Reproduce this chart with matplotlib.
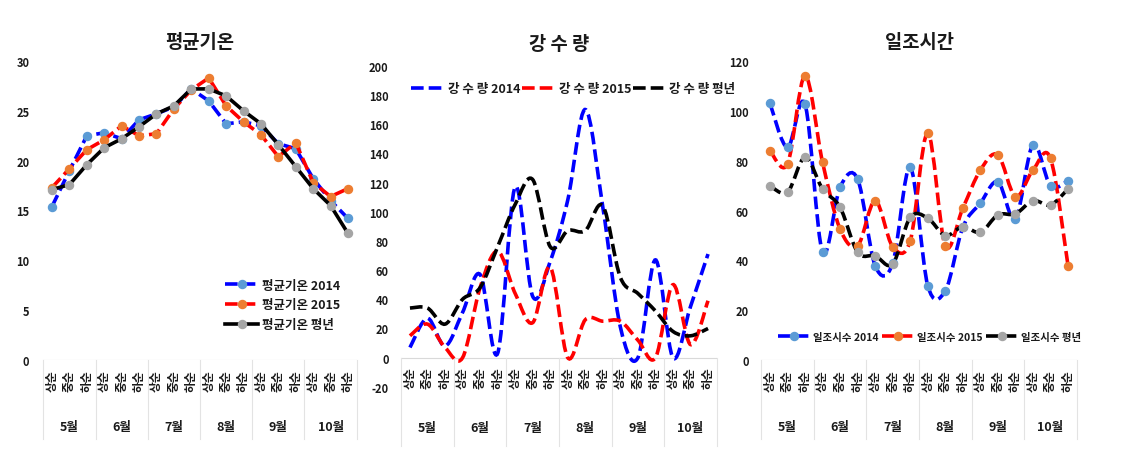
import matplotlib
matplotlib.use("Agg")
import matplotlib.pyplot as plt
import numpy as np
from matplotlib.lines import Line2D
from matplotlib.patches import PathPatch
from matplotlib.path import Path

plt.rcParams["font.family"] = ["Noto Sans CJK KR", "DejaVu Sans"]
plt.rcParams["font.weight"] = "bold"
plt.rcParams["axes.unicode_minus"] = False

W, H = 1124, 460

# ---- data
periods = ["상순", "중순", "하순"]
months = ["5월", "6월", "7월", "8월", "9월", "10월"]

temp_2014 = [15.4, 19.0, 22.5, 22.8, 22.2, 24.1, 24.7, 25.4, 27.2,
             26.0, 23.7, 23.9, 23.5, 21.7, 21.2, 18.2, 16.0, 14.2]
temp_2015 = [17.3, 19.2, 21.1, 22.1, 23.5, 22.5, 22.7, 25.2, 27.1,
             28.3, 25.5, 23.9, 22.6, 20.4, 21.8, 17.8, 16.4, 17.2]
temp_avg = [17.1, 17.6, 19.6, 21.3, 22.2, 23.4, 24.7, 25.5, 27.2,
            27.2, 26.5, 25.0, 23.7, 21.6, 19.4, 17.2, 15.5, 12.7]

rain_2014 = [7, 27, 8, 31, 57, 3, 117, 42, 66,
             108, 170, 103, 21, 0, 67, 0, 35, 71]
rain_2015 = [15, 23, 7, 0, 48, 73, 44, 24, 62,
             0, 26, 25, 25, 12, 0, 50, 9, 39]
rain_avg = [34, 34, 23, 40, 48, 76, 105, 122, 76,
            87, 87, 104, 55, 44, 32, 18, 15, 20]

sun_2014 = [103.1, 85.4, 102.7, 43.3, 69.4, 72.7, 37.9, 38.8, 77.4,
            29.9, 27.8, 53.3, 63.0, 71.6, 56.6, 86.5, 70.0, 72.0]
sun_2015 = [84.1, 78.7, 114.2, 79.4, 52.6, 45.9, 64.0, 45.5, 47.9,
            91.2, 45.9, 61.0, 76.3, 82.4, 65.6, 76.3, 81.0, 37.9]
sun_avg = [70.0, 67.4, 81.4, 68.7, 61.3, 43.3, 41.9, 38.6, 57.3,
           57.0, 50.0, 53.6, 51.3, 58.3, 58.7, 64.0, 62.3, 68.7]

BLUE, RED, BLACK = "#0000FF", "#FF0000", "#000000"
M_BLUE, M_ORANGE, M_GRAY = "#5B9BD5", "#ED7D31", "#A5A5A5"
DASH = (0, (3.5, 1.4))
LW = 2.6
MS = 5.8
TXT = "#1a1a1a"

fig = plt.figure(figsize=(W / 100, H / 100), dpi=100)


def add_axes_px(left, right, top, bottom):
    return fig.add_axes([left / W, 1 - bottom / H, (right - left) / W, (bottom - top) / H])


def smooth_path(x, y):
    # Excel-style smoothed line: cubic Bezier through every point
    pts = np.column_stack([x, y]).astype(float)
    n = len(pts)
    verts = [pts[0]]
    codes = [Path.MOVETO]
    for i in range(n - 1):
        p0 = pts[i - 1] if i > 0 else pts[i]
        p1, p2 = pts[i], pts[i + 1]
        p3 = pts[i + 2] if i + 2 < n else pts[i + 1]
        verts += [p1 + (p2 - p0) / 6, p2 - (p3 - p1) / 6, p2]
        codes += [Path.CURVE4] * 3
    return Path(verts, codes)


def category_axis(ax, y0, height_px, tick_off, month_off, sep_depth):
    n = len(months) * len(periods)
    ax.set_xlim(-0.5, n - 0.5)
    ax.set_xticks([])
    for s in ax.spines.values():
        s.set_visible(False)
    ax.axhline(y0, color="#D9D9D9", lw=0.8, zorder=0)
    ymin, ymax = ax.get_ylim()
    per_px = (ymax - ymin) / height_px
    for b in np.arange(-0.5, n, 3):
        ax.plot([b, b], [y0, y0 - sep_depth * per_px], color="#E3E3E3", lw=0.8,
                clip_on=False, zorder=0)
    for i in range(n):
        ax.annotate(periods[i % 3], xy=(i, y0), xytext=(0, -tick_off), textcoords="offset pixels",
                    rotation=90, ha="center", va="top", fontsize=8.5, color=TXT,
                    fontweight="bold", annotation_clip=False)
    for m, name in enumerate(months):
        ax.annotate(name, xy=(3 * m + 1, y0), xytext=(0, -month_off), textcoords="offset pixels",
                    ha="center", va="center", fontsize=9, color=TXT, fontweight="bold",
                    annotation_clip=False)
    ax.tick_params(axis="y", length=0, labelsize=8, labelcolor=TXT)
    for t in ax.get_yticklabels():
        t.set_fontweight("bold")


x = np.arange(18)

# ---- panel 1: 평균기온
ax1 = add_axes_px(43.3, 356.7, 62, 361)
ax1.set_ylim(0, 30)
ax1.set_yticks(range(0, 31, 5))
ax1.plot(x, temp_2014, color=BLUE, ls=DASH, lw=LW, marker="o", ms=MS,
         mfc=M_BLUE, mec=M_BLUE, label="평균기온 2014")
ax1.plot(x, temp_2015, color=RED, ls=DASH, lw=LW, marker="o", ms=MS,
         mfc=M_ORANGE, mec=M_ORANGE, label="평균기온 2015")
ax1.plot(x, temp_avg, color=BLACK, ls="-", lw=LW, marker="o", ms=MS,
         mfc=M_GRAY, mec=M_GRAY, label="평균기온 평년")
category_axis(ax1, 0, 299, 9, 66, 79)
ax1.tick_params(axis="y", pad=10)
ax1.set_title("평균기온", fontsize=13.5, fontweight="bold", color=TXT, pad=10)
ax1.legend(loc="center left", bbox_to_anchor=(214 / W, 1 - 306 / H), bbox_transform=fig.transFigure,
           frameon=False, fontsize=9, handlelength=2.6, handletextpad=0.3, labelspacing=0.55,
           numpoints=1, labelcolor=TXT)

# ---- panel 2: 강수량
ax2 = add_axes_px(401.2, 716.8, 66.7, 387.9)
ax2.set_ylim(-20, 200)
ax2.set_yticks(range(-20, 201, 20))
for vals, col in [(rain_2014, BLUE), (rain_2015, RED), (rain_avg, BLACK)]:
    ax2.add_patch(PathPatch(smooth_path(x, vals), fill=False, edgecolor=col, lw=LW, ls=DASH,
                            capstyle="butt"))
category_axis(ax2, 0, 321.2, 9, 70, 88)
ax2.tick_params(axis="y", pad=9)
ax2.set_title("강 수 량", fontsize=13.5, fontweight="bold", color=TXT, pad=12)
h2 = [Line2D([], [], color=c, ls=DASH, lw=LW) for c in (BLUE, RED, BLACK)]
ax2.legend(h2, ["강 수 량 2014", "강 수 량 2015", "강 수 량 평년"], loc="center left",
           bbox_to_anchor=(405 / W, 1 - 90 / H), bbox_transform=fig.transFigure, ncol=3,
           frameon=False, fontsize=9, handlelength=2.7, handletextpad=0.25,
           columnspacing=0.1, labelcolor=TXT, borderpad=0)

# ---- panel 3: 일조시간
ax3 = add_axes_px(761.2, 1076.8, 62.3, 361)
ax3.set_ylim(0, 120)
ax3.set_yticks(range(0, 121, 20))
series3 = [(sun_2014, BLUE, M_BLUE), (sun_2015, RED, M_ORANGE), (sun_avg, BLACK, M_GRAY)]
for vals, col, mcol in series3:
    ax3.add_patch(PathPatch(smooth_path(x, vals), fill=False, edgecolor=col, lw=LW, ls=DASH,
                            capstyle="butt"))
for vals, col, mcol in series3:
    ax3.plot(x, vals, ls="none", marker="o", ms=MS, mfc=mcol, mec=mcol, zorder=3)
category_axis(ax3, 0, 298.7, 9, 66, 79)
ax3.tick_params(axis="y", pad=9)
ax3.set_title("일조시간", fontsize=13.5, fontweight="bold", color=TXT, pad=10)
h3 = [Line2D([], [], color=c, ls=DASH, lw=LW, marker="o", ms=MS, mfc=m, mec=m)
      for _, c, m in series3]
ax3.legend(h3, ["일조시수 2014", "일조시수 2015", "일조시수 평년"], loc="center left",
           bbox_to_anchor=(773 / W, 1 - 338 / H), bbox_transform=fig.transFigure, ncol=3,
           frameon=False, fontsize=7.5, handlelength=3.0, handletextpad=0.3, columnspacing=0.4,
           numpoints=1, labelcolor=TXT, borderpad=0)

fig.savefig("out.png", dpi=100)
